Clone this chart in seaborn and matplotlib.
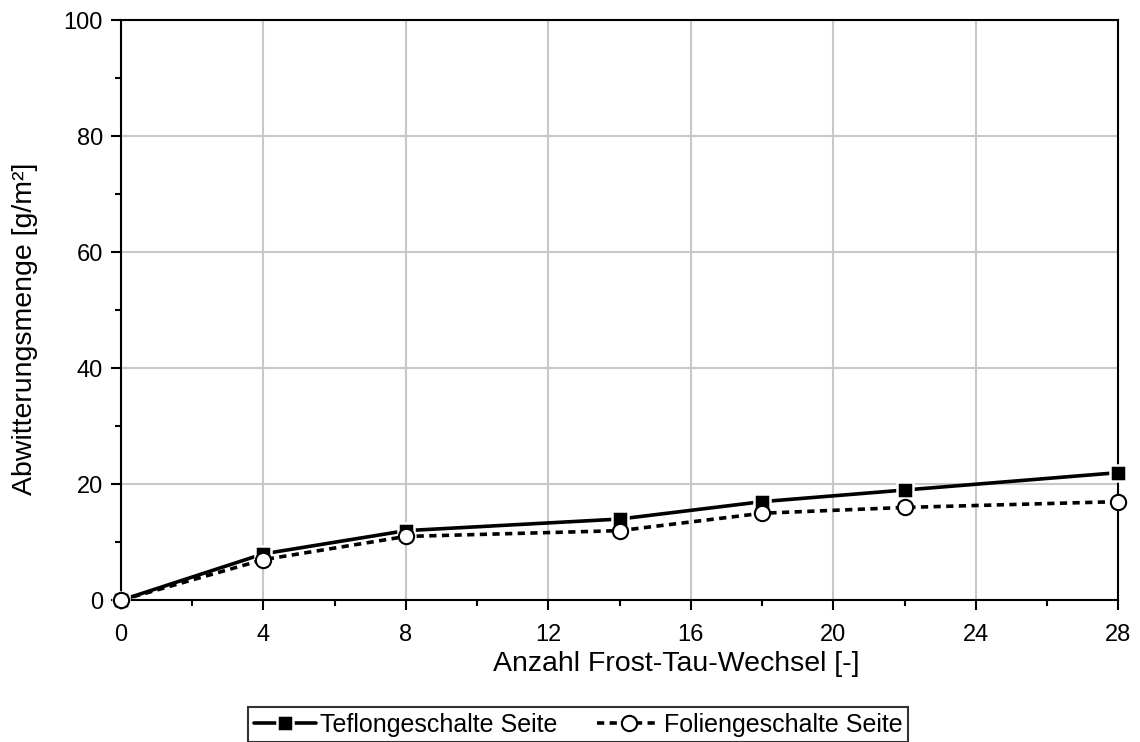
import matplotlib
matplotlib.use("Agg")
import matplotlib.pyplot as plt
import seaborn as sns
import pandas as pd
from matplotlib.ticker import MultipleLocator

cycles = [0, 4, 8, 14, 18, 22, 28]
teflon = [0, 8, 12, 14, 17, 19, 22]
folie = [0, 7, 11, 12, 15, 16, 17]
label_teflon = "Teflongeschalte Seite"
label_folie = "Foliengeschalte Seite"

sns.set_theme(style="white")
plt.rcParams['font.family'] = ['Liberation Sans', 'DejaVu Sans']
plt.rcParams['text.color'] = 'black'
plt.rcParams['axes.labelcolor'] = 'black'
plt.rcParams['xtick.color'] = 'black'
plt.rcParams['ytick.color'] = 'black'

fig = plt.figure(figsize=(11.4, 7.42), dpi=100)
ax = fig.add_axes([0.106, 0.191, 0.875, 0.782])

df_t = pd.DataFrame({"x": cycles, "y": teflon})
df_f = pd.DataFrame({"x": cycles, "y": folie})

sns.lineplot(data=df_t, x="x", y="y", ax=ax, color="black", linewidth=2.6,
             marker="s", markersize=11, markerfacecolor="black",
             markeredgecolor="white", markeredgewidth=1.8,
             label=label_teflon, zorder=4, clip_on=False)
sns.lineplot(data=df_f, x="x", y="y", ax=ax, color="black", linewidth=2.6,
             linestyle=(0, (2, 1.5)), marker="o", markersize=11,
             markerfacecolor="white", markeredgecolor="black", markeredgewidth=1.5,
             label=label_folie, zorder=5, clip_on=False)

ax.set_xlim(0, 28)
ax.set_ylim(0, 100)
ax.xaxis.set_major_locator(MultipleLocator(4))
ax.xaxis.set_minor_locator(MultipleLocator(2))
ax.yaxis.set_major_locator(MultipleLocator(20))
ax.yaxis.set_minor_locator(MultipleLocator(10))
ax.grid(True, which="major", color="#c8c8c8", linewidth=1.5)
ax.set_axisbelow(True)
for s in ax.spines.values():
    s.set_color("black")
    s.set_linewidth(1.5)
    s.set_visible(True)
ax.tick_params(which="major", direction="out", length=7, width=1.5, color="black",
               labelsize=17, labelcolor="black", bottom=True, left=True,
               top=False, right=False)
ax.tick_params(axis="x", which="major", pad=10)
ax.tick_params(axis="y", which="major", pad=6)
ax.tick_params(which="minor", direction="out", length=4, width=1.5, color="black",
               bottom=True, left=True, top=False, right=False)
ax.set_xlabel("Anzahl Frost-Tau-Wechsel [-]", fontsize=20.5)
ax.set_ylabel("Abwitterungsmenge [g/m²]", fontsize=20.5)
ax.xaxis.set_label_coords(0.557, -0.088)
ax.yaxis.set_label_coords(-0.083, 0.467)

handles, labels = ax.get_legend_handles_labels()
ax.get_legend().remove()
leg = fig.legend(handles, labels, loc="upper center", bbox_to_anchor=(0.507, 0.047),
                 ncol=2, frameon=True, fancybox=False, fontsize=18,
                 handlelength=2.5, handletextpad=0.15, columnspacing=1.6,
                 borderpad=0.22, borderaxespad=0, edgecolor="black", markerscale=1.0)
leg.get_frame().set_linewidth(1.5)

fig.savefig("out.png", dpi=100)
